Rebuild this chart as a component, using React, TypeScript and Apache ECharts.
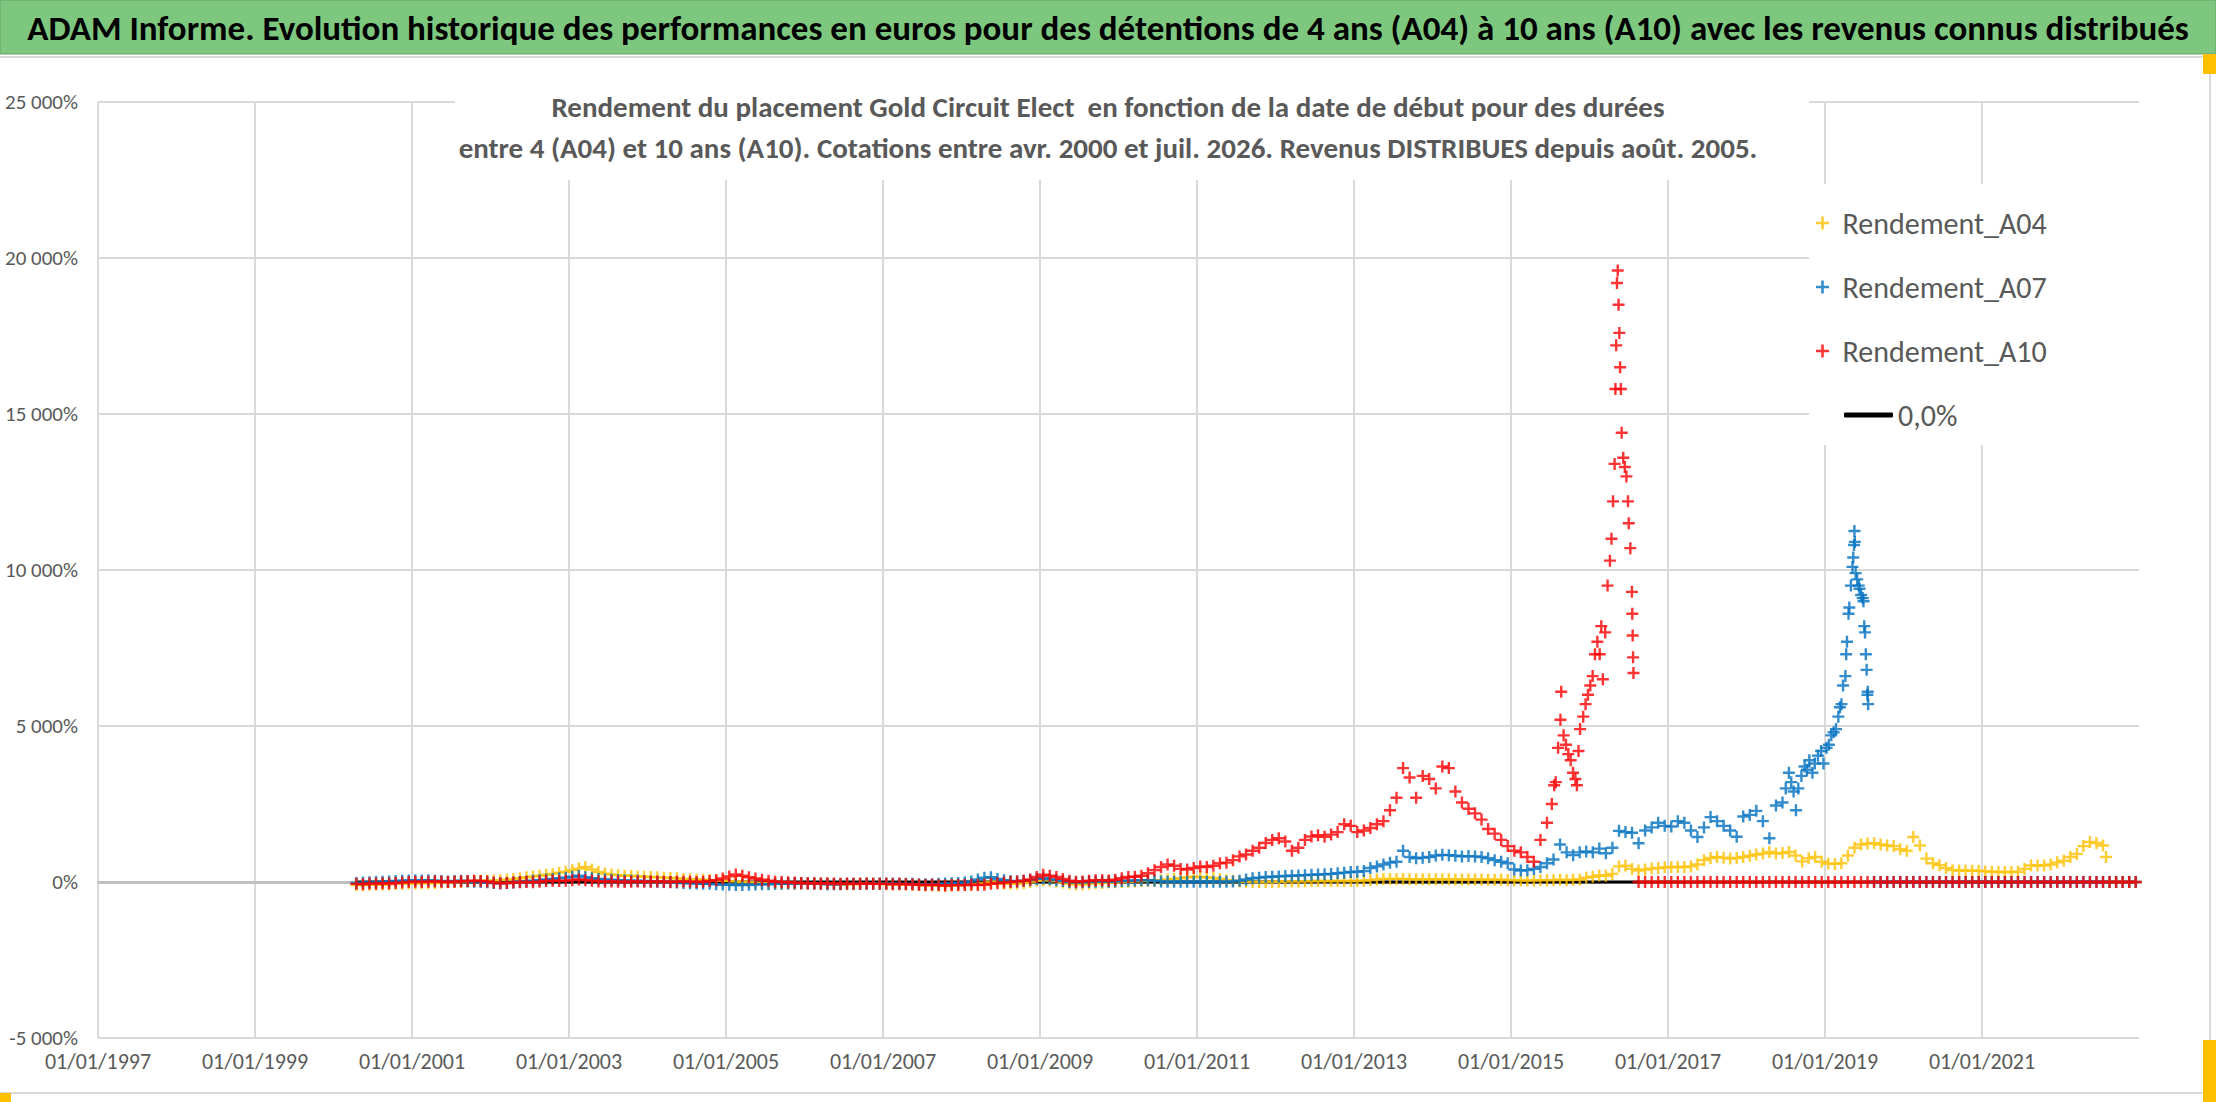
import { useEffect, useRef } from "react";
import * as echarts from "echarts";

const MAIN_TITLE =
  "ADAM Informe. Evolution historique des performances en euros pour des détentions de 4 ans (A04) à 10 ans (A10) avec les revenus connus distribués";
const SUB_TITLE =
  "Rendement du placement Gold Circuit Elect  en fonction de la date de début pour des durées\nentre 4 (A04) et 10 ans (A10). Cotations entre avr. 2000 et juil. 2026. Revenus DISTRIBUES depuis août. 2005.";

const SERIES_NAMES = ["Rendement_A04", "Rendement_A07", "Rendement_A10"];
const ZERO_NAME = "0,0%";
const COLORS = ["#FFC000", "#0070C0", "#FF0000"];

// axis ranges (x in decimal years, y in %)
const X_MIN = 1997;
const X_MAX = 2023;
const X_STEP = 2;
const Y_MIN = -5000;
const Y_MAX = 25000;
const Y_STEP = 5000;

// Rendement_A04, monthly from avr. 2000 to juil. 2022
const a04Monthly = [
  -100, -100, -90, -80, -80, -70, -60, -60, -50,
  -50, -40, -40, -30, -20, -10, 0, 10, 20, 30, 40, 40,
  50, 60, 80, 100, 120, 150, 180, 200, 230, 260, 300, 330,
  380, 430, 480, 400, 320, 270, 240, 220, 200, 200, 180, 170,
  160, 150, 140, 130, 120, 100, 90, 80, 70, 60, 50, 40,
  30, 20, 10, 0, -20, -40, -50, -60, -60, -60, -60, -60,
  -50, -50, -60, -60, -70, -70, -70, -70, -60, -60, -60, -60,
  -70, -70, -80, -80, -90, -100, -110, -110, -120, -130, -120, -110,
  -100, -90, -60, -30, 0, -20, -50, -60, -50, -30, 0, 40,
  60, 50, 20, -20, -60, -80, -80, -60, -40, -30, -20, -10,
  0, 10, 20, 30, 40, 50, 60, 80, 100, 120, 150, 170,
  160, 150, 130, 100, 60, 40, 20, 10, 0, 0, 0, 10,
  10, 20, 20, 20, 20, 30, 30, 30, 30, 30, 30, 30,
  30, 40, 60, 80, 100, 100, 100, 100, 90, 90, 90, 90,
  90, 90, 90, 80, 80, 80, 80, 80, 70, 70, 70, 60,
  60, 50, 50, 50, 60, 60, 60, 70, 60, 70, 80, 140,
  170, 210, 200, 260, 500, 520, 420, 370, 400, 430, 450, 470,
  480, 480, 480, 500, 560, 700, 770, 800, 780, 750, 770, 800,
  840, 880, 910, 960, 910, 930, 960, 850, 660, 760, 800, 650,
  590, 580, 600, 850, 1100, 1200, 1230, 1240, 1200, 1170, 1150, 1050,
  1000, 1440, 1170, 750, 600, 540, 450, 380, 370, 370, 360, 360,
  340, 330, 320, 320, 320, 330, 420, 530, 530, 530, 560, 630,
  680, 800, 900, 1150, 1280, 1250, 1170,
];
const a04Last: [number, number][] = [[2022.58, 800]];
// août 2022 -> déc. 2022
const a04Tail = [0, 0, 0, 0, 0];

// Rendement_A07, monthly from avr. 2000 to juin 2018
const a07Monthly = [
  -30, -20, -10, 0, 10, 20, 30, 40, 50,
  60, 50, 60, 40, 30, 20, 30, 40, 20, 10, 0, -10,
  -30, -40, -30, -20, 0, 20, 40, 60, 80, 100, 120, 140,
  170, 200, 150, 120, 100, 80, 70, 60, 50, 40, 40, 30,
  20, 10, 0, -10, -20, -30, -40, -50, -60, -60, -70, -80,
  -90, -100, -100, -90, -80, -70, -70, -60, -60, -50, -50, -50,
  -50, -60, -60, -70, -70, -70, -60, -60, -60, -60, -60, -50,
  -50, -50, -60, -60, -60, -70, -70, -70, -60, -50, -40, -30,
  -20, 20, 80, 140, 150, 100, 60, 30, 20, 40, 60, 100,
  120, 90, 60, 30, 0, -20, -10, 0, 10, 20, 10, 20,
  30, 40, 50, 60, 60, 40, 20, 10, 10, 10, 10, 10,
  10, 10, 10, 10, 10, 20, 40, 80, 120, 140, 160, 170,
  180, 190, 200, 210, 220, 230, 240, 250, 260, 280, 300, 320,
  330, 350, 450, 500, 560, 620, 650, 1000, 800, 760, 780, 800,
  850, 870, 860, 840, 820, 830, 820, 800, 760, 700, 650, 600,
  400, 370, 380, 420, 480, 600, 720, 1200, 950, 860, 950, 980,
  950, 1070, 920, 1100, 1640, 1600, 1580, 1240, 1650, 1750, 1900, 1800,
  1780, 1950, 1900, 1650, 1440, 1750, 2080, 1950, 1800, 1650, 1450, 2100,
  2150, 2280, 1950, 1400, 2450, 2550,
];
// juil. 2018 -> juil. 2019, individual points of the spike
const a07Spike: [number, number][] = [
  [2018.5, 3000], [2018.54, 3500], [2018.57, 3200], [2018.6, 2900], [2018.63, 2300],
  [2018.66, 3000], [2018.7, 3400], [2018.74, 3700], [2018.77, 3600], [2018.8, 3900],
  [2018.84, 3500], [2018.87, 3800], [2018.91, 4050], [2018.95, 4200], [2018.98, 3800],
  [2019.02, 4300], [2019.05, 4400], [2019.08, 4700], [2019.11, 4800], [2019.14, 4900],
  [2019.17, 5300], [2019.19, 5600], [2019.21, 5700], [2019.23, 6300], [2019.26, 6600],
  [2019.27, 7300], [2019.28, 7700], [2019.3, 8600], [2019.31, 8800], [2019.33, 9500],
  [2019.35, 10100], [2019.36, 10400], [2019.37, 10800], [2019.375, 11250], [2019.38, 10900],
  [2019.39, 9900], [2019.41, 9700], [2019.43, 9500], [2019.44, 9400], [2019.46, 9200],
  [2019.48, 9100], [2019.49, 9000], [2019.5, 8200], [2019.51, 8000], [2019.52, 7300],
  [2019.53, 6800], [2019.54, 6000], [2019.545, 6100], [2019.55, 5700],
];
// août 2019 -> déc. 2022
const a07Tail = [
  0, 0, 0, 0, 0,
  0, 0, 0, 0, 0, 0, 0, 0, 0, 0, 0, 0,
  0, 0, 0, 0, 0, 0, 0, 0, 0, 0, 0, 0,
  0, 0, 0, 0, 0, 0, 0, 0, 0, 0, 0, 0,
];

// Rendement_A10, monthly from avr. 2000 to juin 2015
const a10Monthly = [
  -60, -70, -50, -60, -40, -50, -30, -20, 0,
  10, 0, 10, 20, 10, 0, 10, 20, 30, 40, 30, 20,
  -20, -40, -30, -20, -10, 0, -10, 10, 30, 40, 30, 40,
  60, 80, 60, 40, 20, 10, 20, 10, 0, 10, 20, 10,
  10, 20, 10, 0, 10, 20, 10, 0, 10, 30, 60, 110,
  180, 240, 200, 150, 110, 70, 40, 10, 0, -10, -20, -30,
  -40, -40, -50, -40, -50, -60, -50, -60, -60, -50, -60, -60,
  -60, -70, -60, -70, -80, -90, -100, -90, -100, -110, -100, -100,
  -100, -90, -100, -90, -60, -40, -20, 0, 20, 40, 80, 160,
  230, 200, 160, 100, 40, 10, 20, 40, 60, 60, 50, 70,
  120, 160, 170, 200, 280, 380, 480, 560, 520, 420, 400, 450,
  500, 480, 520, 600, 620, 700, 820, 880, 1000, 1100, 1250, 1350,
  1400, 1300, 1000, 1100, 1350, 1460, 1500, 1450, 1520, 1600, 1850, 1800,
  1600, 1650, 1730, 1850, 1950, 2300, 2700, 3650, 3350, 2700, 3400, 3300,
  3000, 3700, 3650, 2900, 2550, 2350, 2200, 2000, 1700, 1550, 1350, 1150,
  1000, 950, 800, 650, 1350, 1900,
];
// juil. 2015 -> juil. 2016, individual points of the spike
const a10Spike: [number, number][] = [
  [2015.52, 2500], [2015.55, 3100], [2015.57, 3200], [2015.6, 4300], [2015.63, 5200],
  [2015.64, 6100], [2015.67, 4700], [2015.7, 4400], [2015.73, 4100], [2015.76, 3900],
  [2015.79, 3500], [2015.82, 3300], [2015.84, 3100], [2015.86, 4200], [2015.88, 4900],
  [2015.92, 5300], [2015.95, 5700], [2015.98, 6000], [2016.01, 6300], [2016.04, 6600],
  [2016.07, 7300], [2016.1, 7700], [2016.13, 7300], [2016.15, 8200], [2016.17, 6500],
  [2016.2, 8000], [2016.23, 9500], [2016.26, 10300], [2016.28, 11000], [2016.3, 12200],
  [2016.32, 13400], [2016.33, 15800], [2016.34, 17200], [2016.35, 19200], [2016.36, 19600],
  [2016.37, 18500], [2016.38, 17600], [2016.39, 16500], [2016.4, 15800], [2016.41, 14400],
  [2016.43, 13600], [2016.45, 13300], [2016.47, 13000], [2016.49, 12200], [2016.5, 11500],
  [2016.52, 10700], [2016.54, 9300], [2016.545, 8600], [2016.55, 7900], [2016.555, 7200],
  [2016.56, 6700],
];
// août 2016 -> déc. 2022
const a10Tail = [
  0, 0, 0, 0, 0,
  0, 0, 0, 0, 0, 0, 0, 0, 0, 0, 0, 0,
  0, 0, 0, 0, 0, 0, 0, 0, 0, 0, 0, 0,
  0, 0, 0, 0, 0, 0, 0, 0, 0, 0, 0, 0,
  0, 0, 0, 0, 0, 0, 0, 0, 0, 0, 0, 0,
  0, 0, 0, 0, 0, 0, 0, 0, 0, 0, 0, 0,
  0, 0, 0, 0, 0, 0, 0, 0, 0, 0, 0, 0,
];

// the 0,0% reference line, over the dates of the data
const zeroLine: [number, number][] = [
  [2000.29, 0],
  [2022.96, 0],
];

const FONT = "Carlito, Lato, 'Liberation Sans', sans-serif";
const GREY_TEXT = "#595959";
const PLUS = "path://M4,0H6V4H10V6H6V10H4V6H0V4H4Z";

function monthly(year: number, month: number, values: number[]): [number, number][] {
  return values.map((v, i) => [year + (month - 1 + i + 0.5) / 12, v]);
}

function pct(v: number) {
  const s = Math.abs(v)
    .toString()
    .replace(/\B(?=(\d{3})+(?!\d))/g, " ");
  return (v < 0 ? "-" : "") + s + "%";
}

function buildOption(): echarts.EChartsOption {
  const a04 = [...monthly(2000, 4, a04Monthly), ...a04Last, ...monthly(2022, 8, a04Tail)];
  const a07 = [...monthly(2000, 4, a07Monthly), ...a07Spike, ...monthly(2019, 8, a07Tail)];
  const a10 = [...monthly(2000, 4, a10Monthly), ...a10Spike, ...monthly(2016, 8, a10Tail)];
  const scatterData = [a04, a07, a10];

  return {
    animation: false,
    backgroundColor: "#fff",
    textStyle: { fontFamily: FONT },
    title: [
      {
        text: MAIN_TITLE,
        left: "center",
        top: 7,
        padding: 0,
        textStyle: {
          fontFamily: FONT,
          fontSize: 35,
          fontWeight: "bold",
          color: "#000",
          lineHeight: 42,
        },
      },
      {
        text: SUB_TITLE,
        left: "center",
        top: 86,
        padding: 0,
        textStyle: {
          fontFamily: FONT,
          fontSize: 29,
          fontWeight: "bold",
          color: GREY_TEXT,
          lineHeight: 41,
        },
      },
    ],
    graphic: [
      {
        type: "rect",
        z: 3,
        shape: { x: 0, y: 0, width: 2216, height: 54 },
        style: { fill: "#7DC87E", stroke: "#6C9F6D", lineWidth: 1 },
      },
      {
        type: "rect",
        z: 3,
        shape: { x: -2, y: 57, width: 2212, height: 1036 },
        style: { fill: "none", stroke: "#D9D9D9", lineWidth: 2 },
      },
      {
        type: "rect",
        z: 3,
        shape: { x: 455, y: 82, width: 1354, height: 98 },
        style: { fill: "#fff" },
      },
      {
        type: "rect",
        z: 3,
        shape: { x: 1809, y: 184, width: 330, height: 261 },
        style: { fill: "#fff" },
      },
      {
        type: "rect",
        z: 4,
        shape: { x: 2203, y: 54, width: 13, height: 20 },
        style: { fill: "#FFC000" },
      },
      {
        type: "rect",
        z: 4,
        shape: { x: 0, y: 1093, width: 11, height: 9 },
        style: { fill: "#FFC000" },
      },
      {
        type: "rect",
        z: 4,
        shape: { x: 2203, y: 1040, width: 13, height: 62 },
        style: { fill: "#FFC000" },
      },
    ],
    legend: [
      {
        data: SERIES_NAMES.map((name) => ({ name, icon: PLUS })),
        orient: "vertical",
        left: 1816,
        top: 208,
        padding: 0,
        itemWidth: 30,
        itemHeight: 13,
        itemGap: 34,
        selectedMode: false,
        textStyle: { fontFamily: FONT, fontSize: 30, lineHeight: 30, color: GREY_TEXT },
      },
      {
        data: [{ name: ZERO_NAME, icon: "roundRect" }],
        left: 1844,
        top: 400,
        padding: 0,
        itemWidth: 49,
        itemHeight: 5,
        selectedMode: false,
        textStyle: { fontFamily: FONT, fontSize: 30, lineHeight: 30, color: GREY_TEXT },
      },
    ],
    grid: { left: 98, right: 77, top: 102, bottom: 64, containLabel: false },
    xAxis: {
      type: "value",
      min: X_MIN,
      max: X_MAX,
      interval: X_STEP,
      axisLine: { show: false },
      axisTick: { show: false },
      axisLabel: {
        fontFamily: FONT,
        fontSize: 22,
        color: GREY_TEXT,
        margin: 12,
        showMaxLabel: false,
        formatter: (v: number) => "01/01/" + v,
      },
      splitLine: { show: true, showMaxLine: false, lineStyle: { color: "#D9D9D9", width: 2 } },
    },
    yAxis: {
      type: "value",
      min: Y_MIN,
      max: Y_MAX,
      interval: Y_STEP,
      axisLine: { show: false },
      axisTick: { show: false },
      axisLabel: {
        fontFamily: FONT,
        fontSize: 21,
        color: GREY_TEXT,
        margin: 20,
        formatter: (v: number) => pct(v),
      },
      splitLine: { lineStyle: { color: "#D9D9D9", width: 2 } },
    },
    series: [
      {
        name: ZERO_NAME,
        type: "line",
        data: zeroLine,
        symbol: "none",
        silent: true,
        z: 1.5,
        itemStyle: { color: "#000" },
        lineStyle: { color: "#000", width: 3, cap: "round" },
        markLine: {
          silent: true,
          symbol: "none",
          z: 1,
          label: { show: false },
          lineStyle: { color: "#BFBFBF", width: 3, type: "solid" },
          data: [{ yAxis: 0 }],
        },
      },
      ...SERIES_NAMES.map((name, k) => ({
        name,
        type: "scatter" as const,
        data: scatterData[k],
        symbol: PLUS,
        symbolSize: 12,
        silent: true,
        z: 2,
        itemStyle: { color: COLORS[k] },
      })),
    ],
  };
}

export default function App() {
  const ref = useRef<HTMLDivElement | null>(null);

  useEffect(() => {
    if (!ref.current) return;
    const chart = echarts.init(ref.current, undefined, { renderer: "svg" });
    chart.setOption(buildOption());
    return () => {
      chart.dispose();
    };
  }, []);

  return (
    <div
      ref={ref}
      style={{ position: "fixed", left: 0, top: 0, width: 2216, height: 1102, background: "#fff" }}
    />
  );
}
